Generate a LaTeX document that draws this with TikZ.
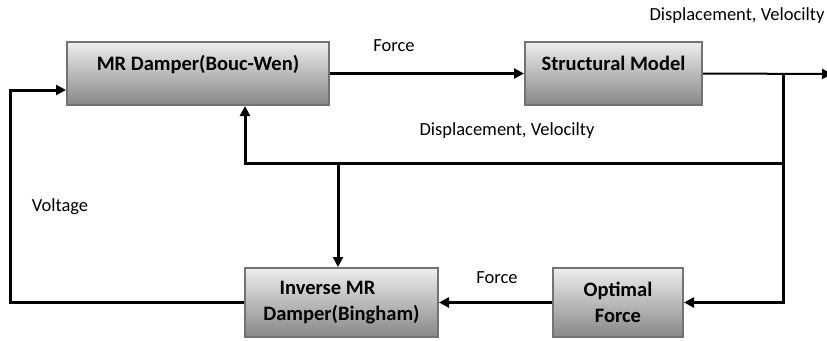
\documentclass[tikz,border=0pt]{standalone}
\usepackage{fontspec}
\setmainfont{Carlito}
\usetikzlibrary{arrows.meta,calc}
\begin{document}
\begin{tikzpicture}[x=1pt,y=-1pt,
  blk/.style={draw=black!55,line width=2pt,top color=black!7,bottom color=black!47,
    font=\bfseries\fontsize{20.5}{26}\selectfont,align=center,inner sep=0pt,
    minimum height=63pt},
  up/.style={text height=15pt,text depth=21pt},
  conn/.style={line width=3pt,-{Triangle[length=10pt,width=10pt]}},
  lbl/.style={font=\fontsize{18.5}{22}\selectfont,inner sep=0pt}]
\useasboundingbox (0,0) rectangle (827,340);
\node[blk,up,minimum width=262pt] (md) at (198,73.5) {MR Damper(Bouc-Wen)};
\node[blk,up,minimum width=177pt] (sm) at (613.5,73.5) {Structural Model};
\node[blk,minimum width=193pt,minimum height=69pt] (inv) at (341.5,302.5) {Inverse MR\hspace*{28pt}\\Damper(Bingham)};
\node[blk,minimum width=130pt,minimum height=69pt] (opt) at (618,302.5) {Optimal\\Force};
\coordinate (out) at (832,74);
\coordinate (j1) at (783,74);
\coordinate (j2) at (783,163);
\coordinate (j3) at (338,163);
\coordinate (vl) at (10,90);
\draw[conn] (md.east) -- (sm.west);
\draw[line width=2pt,-{Triangle[length=10pt,width=10pt]}] (sm.east) -- (out);
\draw[conn] (j1) |- (opt.east);
\draw[conn] (j2) -| ([xshift=47pt]md.south);
\draw[conn] (j3) -- (j3 |- inv.north);
\draw[conn] (opt.west) -- (inv.east);
\draw[conn] (inv.west) -| (vl) -- ([yshift=-16.5pt]md.west);
\node[lbl] (f1) at (394,46) {Force};
\node[lbl] (dv1) at (737,16) {Displacement, Velocilty};
\node[lbl] (dv2) at (507,131) {Displacement, Velocilty};
\node[lbl] (vt) at (60,207) {Voltage};
\node[lbl] (f2) at (497,278) {Force};
\end{tikzpicture}
\end{document}
